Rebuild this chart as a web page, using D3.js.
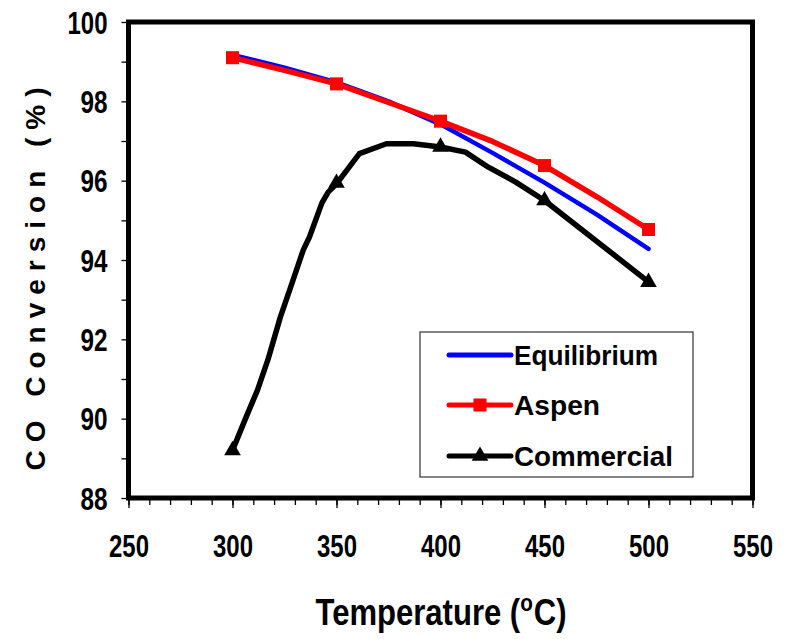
<!DOCTYPE html>
<html><head><meta charset="utf-8">
<script src="https://cdnjs.cloudflare.com/ajax/libs/d3/7.8.5/d3.min.js"></script>
<style>
html,body{margin:0;padding:0;background:#fff;}
svg{display:block;}
.nar{font-family:"Liberation Sans Narrow","Arial Narrow","Liberation Sans",Arial,sans-serif;font-weight:bold;}
</style></head>
<body>
<script>
// ---- data ----
const xTicks = [250, 300, 350, 400, 450, 500, 550];
const yTicks = [88, 90, 92, 94, 96, 98, 100];
const eqTemps = [300, 325, 350, 375, 400, 425, 450, 475, 500];
const eqValues = [99.17, 98.85, 98.48, 98.0, 97.42, 96.7, 95.95, 95.15, 94.28];
const aspenLineTemps = [300, 325, 350, 375, 400, 425, 450, 475, 500];
const aspenLineValues = [99.1, 98.78, 98.44, 97.97, 97.5, 96.99, 96.38, 95.6, 94.77];
const aspenMarkTemps = [300, 350, 400, 450, 500];
const aspenMarkValues = [99.1, 98.44, 97.5, 96.38, 94.77];
const comLineTemps = [300, 306, 312, 317, 323, 328, 334, 337, 343, 346, 350, 361, 374, 387, 400, 412, 423, 436, 450, 500];
const comLineValues = [89.2, 89.97, 90.72, 91.48, 92.56, 93.32, 94.25, 94.58, 95.44, 95.71, 95.92, 96.68, 96.93, 96.93, 96.85, 96.72, 96.34, 95.97, 95.5, 93.45];
const comMarkTemps = [300, 350, 400, 450, 500];
const comMarkValues = [89.2, 95.94, 96.85, 95.5, 93.44];
const legendNames = ["Equilibrium", "Aspen", "Commercial"];

const W = 786, H = 639;
const svg = d3.select("body").append("svg").attr("width", W).attr("height", H);
const x = d3.scaleLinear().domain([250, 550]).range([128.5, 752.5]);
const y = d3.scaleLinear().domain([88, 100]).range([498, 22]);

// minor ticks
const gx = svg.append("g").attr("transform", `translate(0,${y(88)})`);
gx.call(d3.axisBottom(x).tickValues(d3.range(250, 551, 10)).tickSize(7).tickFormat(""))
  .call(g => g.select(".domain").remove())
  .call(g => g.selectAll("line").attr("stroke", "#000").attr("stroke-width", 1.3));
gx.append("g").call(d3.axisBottom(x).tickValues(xTicks).tickSize(10).tickFormat(""))
  .call(g => g.select(".domain").remove())
  .call(g => g.selectAll("line").attr("stroke", "#000").attr("stroke-width", 1.3));
const gxl = svg.append("g").attr("transform", `translate(0,${y(88)})`)
  .call(d3.axisBottom(x).tickValues(xTicks).tickSize(0).tickPadding(0));
gxl.select(".domain").remove();
gxl.selectAll("text").attr("class", "nar").attr("font-size", 31).attr("fill", "#000")
  .attr("y", 59).attr("dy", 0).attr("textLength", 40).attr("lengthAdjust", "spacingAndGlyphs");

const gy = svg.append("g").attr("transform", `translate(${x(250)},0)`);
gy.call(d3.axisLeft(y).tickValues(d3.range(88, 100.1, 1)).tickSize(7).tickFormat(""))
  .call(g => g.select(".domain").remove())
  .call(g => g.selectAll("line").attr("stroke", "#000").attr("stroke-width", 1.3));
const gyl = svg.append("g").attr("transform", `translate(${x(250)},0)`)
  .call(d3.axisLeft(y).tickValues(yTicks).tickSize(0).tickPadding(0));
gyl.select(".domain").remove();
gyl.selectAll("text").attr("class", "nar").attr("font-size", 31).attr("fill", "#000")
  .attr("x", -21).attr("dy", "0.36em")
  .attr("textLength", d => d === 100 ? 40 : 27).attr("lengthAdjust", "spacingAndGlyphs");

// frame
svg.append("rect").attr("x", x(250)).attr("y", y(100)).attr("width", x(550) - x(250)).attr("height", y(88) - y(100))
  .attr("fill", "none").attr("stroke", "#000").attr("stroke-width", 5);

// lines
const line = d3.line().x(d => x(d[0])).y(d => y(d[1]));
svg.append("path").datum(eqTemps.map((t, i) => [t, eqValues[i]]))
  .attr("d", line).attr("fill", "none").attr("stroke", "#0000ff").attr("stroke-width", 4.5).attr("stroke-linecap", "round").attr("stroke-linejoin", "round");
svg.append("path").datum(aspenLineTemps.map((t, i) => [t, aspenLineValues[i]]))
  .attr("d", line).attr("fill", "none").attr("stroke", "#ff0000").attr("stroke-width", 5.5).attr("stroke-linejoin", "round");
svg.append("path").datum(comLineTemps.map((t, i) => [t, comLineValues[i]]))
  .attr("d", line).attr("fill", "none").attr("stroke", "#000").attr("stroke-width", 5.5).attr("stroke-linejoin", "round");

const sq = d3.symbol().type(d3.symbolSquare).size(170);
const tri = d3.symbol().type(d3.symbolTriangle).size(120);
svg.append("g").selectAll("path").data(aspenMarkTemps.map((t, i) => [t, aspenMarkValues[i]])).join("path")
  .attr("transform", d => `translate(${x(d[0])},${y(d[1])})`).attr("d", sq).attr("fill", "#ff0000");
svg.append("g").selectAll("path").data(comMarkTemps.map((t, i) => [t, comMarkValues[i]])).join("path")
  .attr("transform", d => `translate(${x(d[0])},${y(d[1])})`).attr("d", tri).attr("fill", "#000");

// legend
const lg = svg.append("g");
lg.append("rect").attr("x", 420).attr("y", 332).attr("width", 273).attr("height", 145)
  .attr("fill", "#fff").attr("stroke", "#333").attr("stroke-width", 1.2);
const lColors = ["#0000ff", "#ff0000", "#000"];
const lY = [355, 405, 456];
const lLen = [144, 86, 159];
legendNames.forEach((n, i) => {
  lg.append("line").attr("x1", 449).attr("x2", 511).attr("y1", lY[i]).attr("y2", lY[i])
    .attr("stroke", lColors[i]).attr("stroke-width", 5).attr("stroke-linecap", "round");
  if (i === 1) lg.append("path").attr("transform", `translate(480,${lY[i]})`).attr("d", sq).attr("fill", "#ff0000");
  if (i === 2) lg.append("path").attr("transform", `translate(480,${lY[i]})`).attr("d", tri).attr("fill", "#000");
  lg.append("text").attr("class", "nar").attr("x", 514).attr("y", lY[i]).attr("dy", "0.36em")
    .attr("font-size", 28).attr("textLength", lLen[i]).attr("lengthAdjust", "spacingAndGlyphs").text(n);
});

// x axis title: "Temperature (" + superscript "o" + "C)", laid out piecewise
const xtg = svg.append("g");
const parts = [["Temperature (", 36, 0], ["o", 24, -14], ["C)", 36, 0]];
let cx = 0;
const nodes = parts.map(p => {
  const t = xtg.append("text").attr("class", "nar").attr("font-size", p[1]).attr("x", cx).attr("y", p[2]).text(p[0]);
  const w = t.node().getComputedTextLength();
  cx += w + (p[0] === "o" ? 1 : 0);
  return t;
});
const sx = 251 / cx;
xtg.attr("transform", `translate(${441 - 251 / 2},625) scale(${sx},1)`);

svg.append("text").attr("transform", "translate(45,275) rotate(-90)").attr("text-anchor", "middle")
  .attr("font-family", "'Liberation Sans',Arial,sans-serif").attr("font-weight", "bold").attr("font-size", 28)
  .attr("letter-spacing", 8).text("CO Conversion (%)");
</script>
</body></html>
